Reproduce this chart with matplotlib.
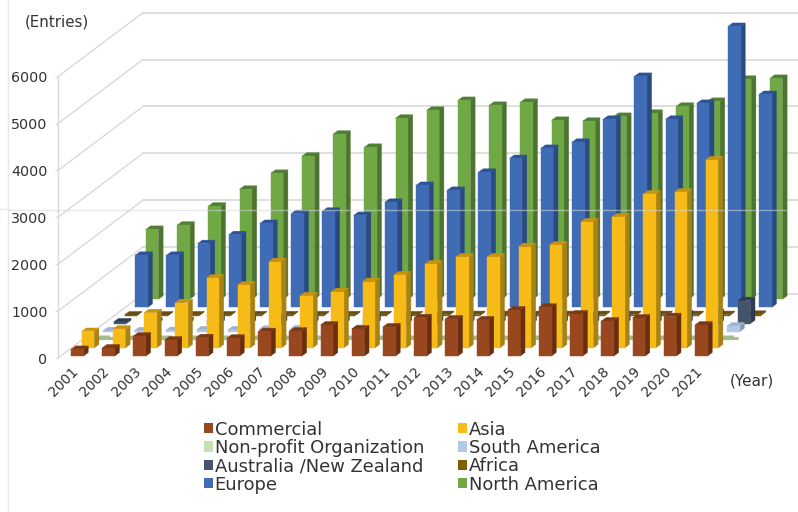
"""
Entries per year by applicant type and region, drawn as an oblique 3D bar chart
"""

import matplotlib
matplotlib.use('Agg')
import matplotlib.pyplot as plt
from matplotlib.lines import Line2D
from matplotlib.patches import Patch, Polygon
from matplotlib.transforms import ScaledTranslation

# -----------------------------
# Data

years = list(range(2001, 2022))

commercial = [140, 170, 425, 340, 390, 380, 520, 530, 660, 575, 620,
              815, 790, 770, 980, 1040, 895, 745, 810, 840, 660]
asia = [350, 400, 750, 965, 1490, 1340, 1840, 1110, 1200, 1415, 1555,
        1790, 1940, 1940, 2160, 2195, 2690, 2790, 3280, 3320, 4010]
non_profit = [10, 10, 10, 10, 10, 10, 10, 10, 10, 10, 10,
              10, 10, 10, 10, 10, 10, 10, 10, 10, 10]
south_america = [20, 20, 25, 40, 40, 50, 60, 60, 70, 70, 70,
                 70, 80, 80, 80, 90, 90, 90, 100, 100, 120]
australia_nz = [35, 50, 60, 80, 90, 100, 110, 110, 130, 130, 130,
                140, 140, 150, 150, 170, 180, 190, 200, 230, 490]
africa = [10, 10, 12, 12, 15, 15, 15, 15, 15, 15, 20,
          20, 20, 20, 20, 20, 20, 20, 20, 20, 25]
europe = [1110, 1110, 1360, 1550, 1790, 2000, 2050, 1960, 2240, 2600, 2495,
          2880, 3175, 3390, 3520, 4010, 4925, 4010, 4350, 5990, 4540]
north_america = [1490, 1580, 1985, 2345, 2685, 3050, 3520, 3240, 3860, 4030, 4240,
                 4135, 4200, 3815, 3795, 3900, 3965, 4115, 4220, 4690, 4710]

series_names = ['Commercial', 'Asia', 'Non-profit Organization', 'South America',
                'Australia /New Zealand', 'Africa', 'Europe', 'North America']
series_values = [commercial, asia, non_profit, south_america,
                 australia_nz, africa, europe, north_america]

# (front, top, side) per series
series_colors = [('#98471f', '#7c3714', '#692e12'),
                 ('#f6bb16', '#c8940e', '#a98217'),
                 ('#c5dfb3', '#a3bd90', '#8fa67e'),
                 ('#b4c7e7', '#9fb2d2', '#8697b3'),
                 ('#44546a', '#2c3d55', '#2f3c4f'),
                 ('#7f6000', '#6a4d14', '#5f4610'),
                 ('#3f6cb5', '#2e5296', '#2a4a80'),
                 ('#6fa844', '#4f7d31', '#4c7430')]

y_ticks = [0, 1000, 2000, 3000, 4000, 5000, 6000]

# Geometry of the projection, in pixels of the 798x512 picture
PX_YEAR = 31.2
PX_ENTRY = 0.0469
PX_LEFT, PX_RIGHT, PX_FLOOR, PX_TOP = 58, 798, 358, 13

BAR_W = 12.5 / PX_YEAR
BAR_DX = 4.7 / PX_YEAR      # depth of one bar
BAR_DY = 3.5 / PX_ENTRY
STEP_DX = 10.7 / PX_YEAR    # shift from one series row to the next
STEP_DY = 8.1 / PX_ENTRY
WALL_DX = 85 / PX_YEAR      # shift from the front of the floor to the back wall
WALL_DY = 64 / PX_ENTRY
BASE_Y = 2 / PX_ENTRY       # first row sits slightly behind the front edge
GRID = '#d9d9d9'
TEXT = '#333333'
FONT = 'DejaVu Sans'


def draw_bar(ax, year, value, depth, colors):
    """Draws one oblique bar: side, top, then front face"""
    front, top, side = colors
    x0 = year + depth * STEP_DX
    y0 = BASE_Y + depth * STEP_DY
    x1 = x0 + BAR_W
    y1 = y0 + value
    z = 20 - depth  # nearer rows on top
    ax.add_patch(Polygon([(x1, y0), (x1 + BAR_DX, y0 + BAR_DY), (x1 + BAR_DX, y1 + BAR_DY), (x1, y1)],
                         fc=side, ec=side, lw=0.3, zorder=z))
    ax.add_patch(Polygon([(x0, y1), (x1, y1), (x1 + BAR_DX, y1 + BAR_DY), (x0 + BAR_DX, y1 + BAR_DY)],
                         fc=top, ec=top, lw=0.3, zorder=z))
    ax.add_patch(Polygon([(x0, y0), (x1, y0), (x1, y1), (x0, y1)],
                         fc=front, ec=front, lw=0.3, zorder=z))


fig = plt.figure(figsize=(7.98, 5.12), dpi=100, facecolor='white')
plt.rcParams['font.family'] = FONT

# Axes cover the plot area only, so the left spine is the value axis
ax = fig.add_axes([PX_LEFT / 798, 1 - PX_FLOOR / 512,
                   (PX_RIGHT - PX_LEFT) / 798, (PX_FLOOR - PX_TOP) / 512])
x_min = 2001 - (71 - PX_LEFT) / PX_YEAR
x_max = x_min + (PX_RIGHT - PX_LEFT) / PX_YEAR
ax.set_xlim(x_min, x_max)
ax.set_ylim(0, (PX_FLOOR - PX_TOP) / PX_ENTRY)

for name in ['top', 'right', 'bottom']:
    ax.spines[name].set_visible(False)
ax.spines['left'].set_bounds(0, y_ticks[-1])
ax.spines['left'].set_color(GRID)
ax.spines['left'].set_linewidth(1.0)

# Walls
for tick in y_ticks:
    ax.plot([x_min, x_min + WALL_DX], [tick, tick + WALL_DY], color=GRID, lw=1.0, zorder=1, clip_on=False)
    ax.plot([x_min + WALL_DX, x_max], [tick + WALL_DY, tick + WALL_DY], color=GRID, lw=1.2, zorder=1, clip_on=False)

# The non-profit row reads as one thin strip along the floor
strip_y = BASE_Y + 2 * STEP_DY + 30
ax.plot([years[0] + 2 * STEP_DX, years[-1] + 2 * STEP_DX + BAR_W + 2 * BAR_DX], [strip_y, strip_y],
        color=series_colors[2][1], lw=2.2, zorder=18.5, solid_capstyle='butt')

# Back row first so nearer rows cover it
for depth in range(len(series_values) - 1, -1, -1):
    for year, value in zip(years, series_values[depth]):
        draw_bar(ax, year, value, depth, series_colors[depth])

# Ticks
ax.set_yticks(y_ticks)
ax.tick_params(axis='y', length=2.5, width=0.8, color=GRID, labelcolor=TEXT, labelsize=10.3, pad=5)
ax.set_xticks([y + BAR_W / 2 for y in years])
ax.set_xticklabels([str(y) for y in years], rotation=45, ha='right', rotation_mode='anchor')
ax.tick_params(axis='x', length=0, labelcolor=TEXT, labelsize=10.0, pad=0)
label_shift = ScaledTranslation(-6 / 100, -6 / 100, fig.dpi_scale_trans)
for label in ax.get_xticklabels():
    label.set_transform(label.get_transform() + label_shift)

# Unit captions
fig.text(25 / 798, 1 - 22 / 512, '(Entries)', fontsize=10.8, color=TEXT, ha='left', va='center')
fig.text(730 / 798, 1 - 381 / 512, '(Year)', fontsize=11, color=TEXT, ha='left', va='center')

# Legend fills column by column, reference reads row by row
order = [0, 2, 4, 6, 1, 3, 5, 7]
handles = [Patch(fc=series_colors[i][0], ec='none', label=series_names[i]) for i in order]
fig.legend(handles=handles, ncol=2, loc='upper left', bbox_to_anchor=(200 / 798, 1 - 417 / 512),
           frameon=False, fontsize=12.9, handlelength=0.5, handleheight=0.5, handletextpad=0.12,
           labelspacing=0.02, columnspacing=1.88, labelcolor=TEXT, borderpad=0.2, borderaxespad=0)

# Faint page rules that run through the picture
fig.add_artist(Line2D([8 / 798, 8 / 798], [0, 1], color='#e4e7f4', lw=1.0))
fig.add_artist(Line2D([0, 8 / 798], [1 - 209 / 512, 1 - 209 / 512], color='#e4e7f4', lw=1.0))
fig.add_artist(Line2D([8 / 798, 788 / 798], [1 - 210 / 512, 1 - 210 / 512], color='#d5d8d8', lw=1.0, alpha=0.55))

fig.savefig('out.png', dpi=100)
